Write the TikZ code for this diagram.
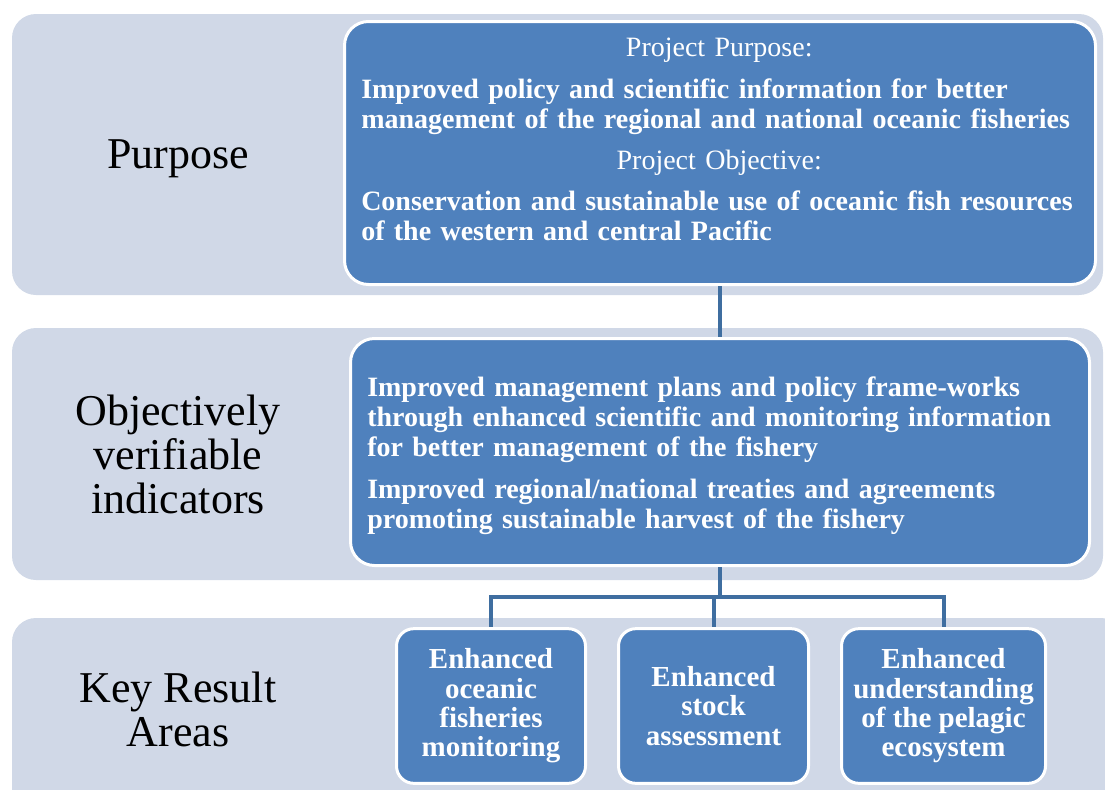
\documentclass[tikz,border=0pt]{standalone}
\usepackage{fontspec}
\setmainfont{Liberation Serif}
\newfontfamily\bodyfont[WordSpace=0.7]{Liberation Serif}
\usepackage{xcolor}
\usepackage{tikz}
\usetikzlibrary{shapes,arrows,positioning,fit,calc}

\definecolor{bandgray}{RGB}{208,216,231}
\definecolor{boxblue}{RGB}{79,129,189}
\definecolor{linkblue}{RGB}{63,110,160}

\tikzset{
  band/.style={rectangle, rounded corners=18pt, fill=bandgray, inner sep=0pt},
  bluebox/.style={rectangle, rounded corners=18pt, fill=boxblue, draw=white, line width=2.25pt},
  krabox/.style={bluebox, rounded corners=13pt, minimum height=116pt, inner sep=3pt,
    text=white, align=center, font=\fontsize{21.75}{22}\selectfont\bfseries},
  boxtext/.style={text=white, align=left, text width=560pt, inner sep=0pt, anchor=north west,
    font=\bodyfont\fontsize{21}{22.5}\selectfont\bfseries},
  rowlabel/.style={align=center, font=\fontsize{33}{33}\selectfont},
  link/.style={draw=linkblue, line width=3pt}
}

\begin{document}
\begin{tikzpicture}[x=0.75pt, y=-0.75pt]
    \clip (0,0) rectangle (1105,789);

    % background rows
    \node (purpband) [band, minimum width=818.25pt, minimum height=210.75pt] at (557.5,154.5) {};
    \node (oviband) [band, minimum width=818.25pt, minimum height=189pt] at (557.5,454) {};
    \node (kraband) [band, minimum width=834.75pt, minimum height=159pt] at (568.5,724) {};

    \node (purplabel) [rowlabel] at (178,159) {Purpose};
    \node (ovilabel) [rowlabel] at (178,454) {Objectively\\verifiable\\indicators};
    \node (kralabel) [rowlabel] at (178,709) {Key Result\\Areas};

    % main boxes
    \node (purpbox) [bluebox, minimum width=563.25pt, minimum height=197.25pt] at (720,153) {};
    \node (purptext) [boxtext] at (361,38) {%
        \makebox[537pt]{\mdseries Project Purpose:}\\[8.5pt]
        Improved policy and scientific information for better\\
        management of the regional and national oceanic fisheries\\[8.5pt]
        \makebox[537pt]{\mdseries Project Objective:}\\[8.5pt]
        Conservation and sustainable use of oceanic fish resources\\
        of the western and central Pacific};

    \node (ovibox) [bluebox, minimum width=554.25pt, minimum height=170.25pt] at (720,452) {};
    \node (ovitext) [boxtext] at (367,377) {%
        Improved management plans and policy frame-works\\
        through enhanced scientific and monitoring information\\
        for better management of the fishery\\[8.5pt]
        Improved regional/national treaties and agreements\\
        promoting sustainable harvest of the fishery};

    % key result areas
    \node (kraA) [krabox, minimum width=141.75pt] at (491,706) {Enhanced\\oceanic\\fisheries\\monitoring};
    \node (kraB) [krabox, minimum width=142.5pt, right=22.5pt of kraA] {Enhanced\\stock\\assessment};
    \node (kraC) [krabox, minimum width=153pt, right=22.5pt of kraB] {Enhanced\\understanding\\of the pelagic\\ecosystem};

    \coordinate (fork) at (720,597);

    \draw [link] (purpbox) -- (ovibox);
    \draw [link] (ovibox.south) -- (fork);
    \draw [link] (fork) -| (kraA.north);
    \draw [link] (fork) -| (kraB.north);
    \draw [link] (fork) -| (kraC.north);
\end{tikzpicture}
\end{document}
